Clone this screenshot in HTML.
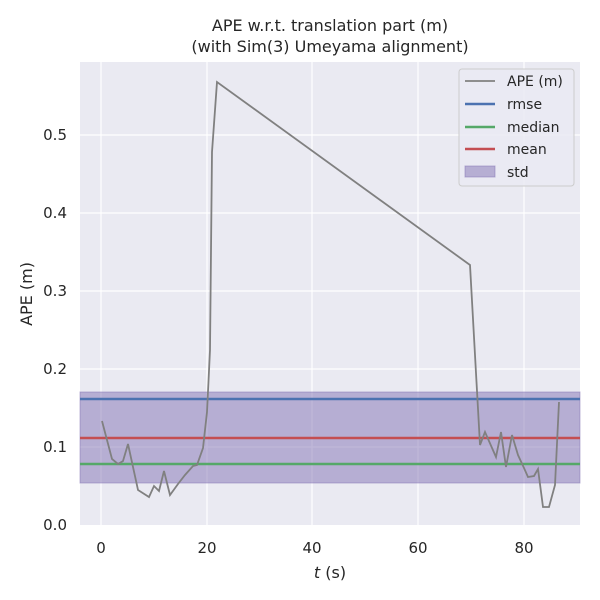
<!DOCTYPE html>
<html><head><style>body{margin:0;background:#fff;}svg{display:block;font-family:"DejaVu Sans","Liberation Sans",sans-serif;}</style></head>
<body>
<svg width="600" height="600" viewBox="0 0 600 600">
<rect x="80" y="62" width="500" height="463" fill="#eaeaf2"/>
<g stroke="#fff" stroke-width="1.2">
<line x1="101" y1="62" x2="101" y2="525"/><line x1="207" y1="62" x2="207" y2="525"/><line x1="312" y1="62" x2="312" y2="525"/><line x1="418" y1="62" x2="418" y2="525"/><line x1="524" y1="62" x2="524" y2="525"/>
<line x1="80" y1="447" x2="580" y2="447"/><line x1="80" y1="369" x2="580" y2="369"/><line x1="80" y1="291" x2="580" y2="291"/><line x1="80" y1="213" x2="580" y2="213"/><line x1="80" y1="135" x2="580" y2="135"/>
</g>
<rect x="80" y="392" width="500" height="91" fill="#8172b3" fill-opacity="0.5" stroke="#8172b3" stroke-opacity="0.5"/>
<line x1="80" y1="399" x2="580" y2="399" stroke="#4c72b0" stroke-width="2.5"/>
<line x1="80" y1="438" x2="580" y2="438" stroke="#c44e52" stroke-width="2.5"/>
<line x1="80" y1="464" x2="580" y2="464" stroke="#55a868" stroke-width="2.5"/>
<polyline fill="none" stroke="#808080" stroke-width="1.8" points="102,421 112,459 118,464 123,461 128,444 138,490 149,497 154,486 159,491 164,471 170,495 178,484 185,475 193,466 197,465 203,448 207,412 210,350 212,152 217,82 470,265 480,445 485,432 496,457 501,432 506,467 512,435 518,455 524,468 528,477 534,476 538,469 543,507 549,507 555,485 559,402"/>
<g font-size="15" fill="#262626" text-anchor="middle">
<text x="101" y="553">0</text><text x="207" y="553">20</text><text x="312" y="553">40</text><text x="418" y="553">60</text><text x="524" y="553">80</text>
</g>
<g font-size="16" fill="#262626" text-anchor="middle">
<text x="330" y="578"><tspan font-style="italic">t</tspan> (s)</text>
<text x="330" y="31">APE w.r.t. translation part (m)</text>
<text x="330" y="52">(with Sim(3) Umeyama alignment)</text>
</g>
<g font-size="15" fill="#262626" text-anchor="end">
<text x="67" y="530">0.0</text><text x="67" y="452">0.1</text><text x="67" y="374">0.2</text><text x="67" y="296">0.3</text><text x="67" y="218">0.4</text><text x="67" y="140">0.5</text>
</g>
<text transform="translate(32,294) rotate(-90)" font-size="16" fill="#262626" text-anchor="middle">APE (m)</text>
<rect x="459" y="69" width="115" height="117" rx="3" fill="#eaeaf2" fill-opacity="0.8" stroke="#ccc"/>
<g font-size="14" fill="#262626">
<line x1="465" y1="81" x2="495" y2="81" stroke="#808080" stroke-width="1.8"/><text x="507" y="86">APE (m)</text>
<line x1="465" y1="104" x2="495" y2="104" stroke="#4c72b0" stroke-width="2.5"/><text x="507" y="109">rmse</text>
<line x1="465" y1="127" x2="495" y2="127" stroke="#55a868" stroke-width="2.5"/><text x="507" y="132">median</text>
<line x1="465" y1="149" x2="495" y2="149" stroke="#c44e52" stroke-width="2.5"/><text x="507" y="154">mean</text>
<rect x="465" y="166" width="30" height="11" fill="#8172b3" fill-opacity="0.5" stroke="#8172b3" stroke-opacity="0.5"/><text x="507" y="177">std</text>
</g>
</svg>
</body></html>
